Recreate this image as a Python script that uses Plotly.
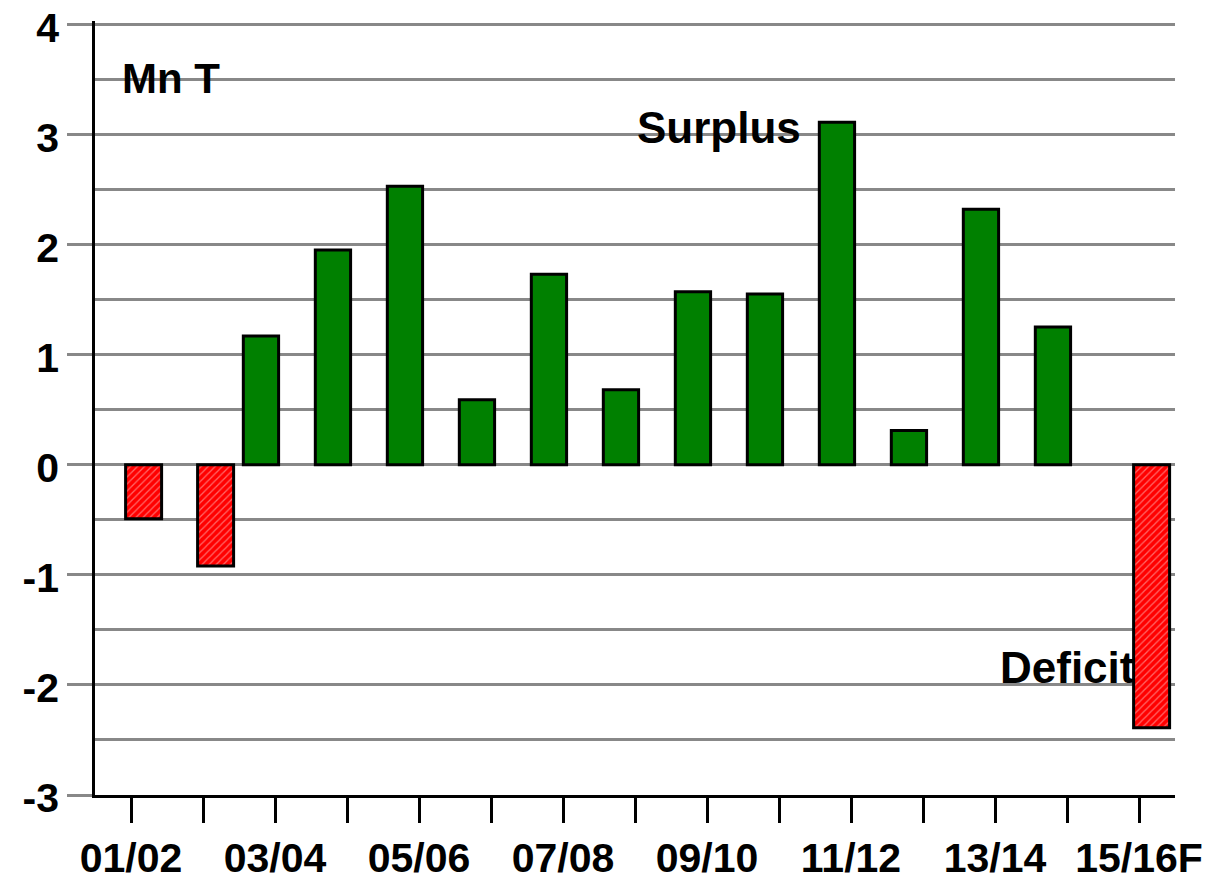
import plotly.graph_objects as go

seasons = ["01/02", "02/03", "03/04", "04/05", "05/06", "06/07", "07/08", "08/09",
           "09/10", "10/11", "11/12", "12/13", "13/14", "14/15", "15/16F"]
surplus = [None, None, 1.17, 1.95, 2.53, 0.59, 1.73, 0.68, 1.57, 1.55, 3.11, 0.31, 2.32, 1.25, None]
deficit = [-0.49, -0.92, None, None, None, None, None, None, None, None, None, None, None, None, -2.39]
tick_labels = ["01/02", "", "03/04", "", "05/06", "", "07/08", "", "09/10", "", "11/12", "", "13/14", "", "15/16F"]
y_ticks = [-3, -2, -1, 0, 1, 2, 3, 4]
y_tick_text = ["-3", "-2", "-1", "0", "1", "2", "3", "4"]

xpos = list(range(len(seasons)))
FONT = "Liberation Sans, Arial, sans-serif"

fig = go.Figure()
fig.add_trace(go.Bar(
    x=xpos, y=surplus, name="Surplus",
    width=0.49, offset=-0.44,
    marker=dict(color="#008000", line=dict(color="black", width=3)),
))
fig.add_trace(go.Bar(
    x=xpos, y=deficit, name="Deficit",
    width=0.5, offset=-0.075,
    marker=dict(color="#ff0000", line=dict(color="black", width=3),
                pattern=dict(shape="/", bgcolor="#ff0000", fgcolor="#ffd0d0",
                             size=5, solidity=0.25, fillmode="overlay")),
))

# page body has an 8px margin, so the figure is sized/offset to compensate
fig.update_layout(
    width=1207, height=872,
    margin=dict(l=87, r=40, t=13, b=85),
    paper_bgcolor="white", plot_bgcolor="white",
    showlegend=False,
    barmode="overlay",
    font=dict(family=FONT, size=40, color="black"),
    xaxis=dict(
        range=[-0.5, len(seasons) - 0.5],
        tickmode="array", tickvals=xpos, ticktext=tick_labels,
        ticks="outside", ticklen=25, tickwidth=2.5, tickcolor="black",
        showline=True, linecolor="black", linewidth=2.5,
        showgrid=False, zeroline=False, automargin=False,
        ticklabeloverflow="allow",
        tickfont=dict(family=FONT, size=41, color="black", weight="bold"),
    ),
    yaxis=dict(
        range=[-3, 4.03],
        tickmode="array", tickvals=y_ticks, ticktext=y_tick_text,
        ticks="outside", ticklen=25, tickwidth=2.5, tickcolor="#888888",
        showline=True, linecolor="black", linewidth=2.5,
        showgrid=True, gridcolor="#888888", gridwidth=2.5,
        zeroline=False, automargin=False,
        ticklabeloverflow="allow", ticklabelshift=3,
        minor=dict(dtick=0.5, showgrid=True, gridcolor="#888888", gridwidth=2.5, ticks=""),
        tickfont=dict(family=FONT, size=41, color="black", weight="bold"),
    ),
    annotations=[
        dict(x=-0.15, y=3.51, xref="x", yref="y", text="<b>Mn T</b>", showarrow=False,
             xanchor="left", yanchor="middle", font=dict(family=FONT, size=42, color="black")),
        dict(x=7.0, y=3.06, xref="x", yref="y", text="<b>Surplus</b>", showarrow=False,
             xanchor="left", yanchor="middle", font=dict(family=FONT, size=44, color="black")),
        dict(x=12.04, y=-1.84, xref="x", yref="y", text="<b>Deficit</b>", showarrow=False,
             xanchor="left", yanchor="middle", font=dict(family=FONT, size=44, color="black")),
    ],
)

fig.write_html("out.html")
